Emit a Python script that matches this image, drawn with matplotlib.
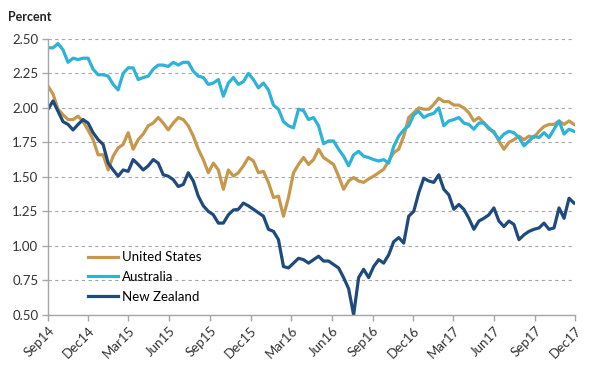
#!/usr/bin/env python3
"""
Ten-year government bond yields: United States, Australia, New Zealand.
"""

import pandas as pd
import matplotlib
matplotlib.use("Agg")
import matplotlib.pyplot as plt

plt.rcParams['font.family'] = ['Lato', 'DejaVu Sans']

# sampled roughly every 11 days, Sep 2014 -> end Nov 2017
start_date = "2014-09-01"
end_date = "2017-11-28"

us = [2.157, 2.10, 1.99, 1.95, 1.915, 1.915, 1.94, 1.90, 1.84, 1.77,
      1.66, 1.66, 1.55, 1.65, 1.71, 1.735, 1.82, 1.70, 1.77, 1.81,
      1.87, 1.89, 1.93, 1.89, 1.84, 1.89, 1.93, 1.915, 1.87, 1.795,
      1.70, 1.625, 1.53, 1.60, 1.55, 1.41, 1.55, 1.505,
      1.53, 1.58, 1.64, 1.615, 1.53, 1.54, 1.46, 1.35, 1.36, 1.215,
      1.35, 1.53, 1.59, 1.64, 1.59, 1.625, 1.70, 1.64, 1.615, 1.59,
      1.505, 1.41, 1.47, 1.495, 1.47, 1.46, 1.485, 1.505, 1.53, 1.555,
      1.615, 1.675, 1.70, 1.795, 1.93, 1.965, 2.00,
      1.99, 1.99, 2.025, 2.07, 2.045, 2.045, 2.02, 2.02, 2.00, 1.965,
      1.905, 1.93, 1.89, 1.845, 1.83, 1.76, 1.70, 1.75, 1.77, 1.795,
      1.77, 1.795, 1.785, 1.83, 1.865, 1.88, 1.88, 1.905, 1.88, 1.905,
      1.88]

australia = [2.435, 2.435, 2.466, 2.42, 2.33, 2.36, 2.35, 2.36, 2.36, 2.28,
             2.24, 2.24, 2.23, 2.17, 2.13, 2.25, 2.29, 2.29, 2.205, 2.22,
             2.23, 2.28, 2.31, 2.31, 2.30, 2.33, 2.31, 2.33, 2.33, 2.265,
             2.23, 2.22, 2.17, 2.18, 2.205, 2.085, 2.18, 2.22,
             2.17, 2.19, 2.25, 2.205, 2.145, 2.18, 2.13, 2.02, 1.99, 1.90,
             1.87, 1.855, 1.99, 1.98, 1.915, 1.93, 1.87, 1.74, 1.76, 1.76,
             1.70, 1.65, 1.58, 1.66, 1.685, 1.65, 1.64, 1.625, 1.615, 1.625,
             1.60, 1.72, 1.795, 1.84, 1.87, 1.95, 1.975,
             1.93, 1.95, 1.96, 2.00, 1.87, 1.905, 1.915, 1.93, 1.89, 1.88,
             1.845, 1.89, 1.89, 1.855, 1.82, 1.77, 1.81, 1.83, 1.82, 1.785,
             1.725, 1.76, 1.795, 1.785, 1.82, 1.785, 1.845, 1.905, 1.81, 1.845,
             1.83]

new_zealand = [1.99, 2.05, 1.975, 1.90, 1.88, 1.84, 1.88, 1.915, 1.89, 1.82,
               1.77, 1.735, 1.60, 1.55, 1.505, 1.55, 1.54, 1.625, 1.59, 1.55,
               1.58, 1.625, 1.60, 1.515, 1.505, 1.48, 1.43, 1.445, 1.53, 1.47,
               1.36, 1.29, 1.25, 1.225, 1.165, 1.165, 1.225, 1.26,
               1.265, 1.31, 1.29, 1.265, 1.24, 1.215, 1.12, 1.105, 1.045, 0.85,
               0.84, 0.875, 0.91, 0.90, 0.875, 0.90, 0.925, 0.89, 0.89, 0.865,
               0.84, 0.77, 0.69, 0.50, 0.77, 0.83, 0.77, 0.85, 0.90, 0.875,
               0.935, 1.03, 1.06, 1.02, 1.215, 1.25, 1.385,
               1.49, 1.47, 1.46, 1.515, 1.41, 1.37, 1.265, 1.30, 1.265, 1.20,
               1.12, 1.18, 1.20, 1.225, 1.275, 1.18, 1.14, 1.18, 1.155, 1.045,
               1.08, 1.105, 1.12, 1.13, 1.165, 1.12, 1.13, 1.275, 1.20, 1.345,
               1.31]

series = [
    ("United States", us, "#C6984D"),
    ("Australia", australia, "#2DB2D8"),
    ("New Zealand", new_zealand, "#1F4A7E"),
]

tick_dates = pd.date_range("2014-09-01", "2017-12-01", freq="3MS")
y_ticks = [0.50, 0.75, 1.00, 1.25, 1.50, 1.75, 2.00, 2.25, 2.50]

dates = pd.date_range(start_date, end_date, periods=len(us))

fig = plt.figure(figsize=(6.0, 3.7), dpi=100)
ax = fig.add_axes([0.08, 0.149, 0.879, 0.746])

for name, values, color in series:
    ax.plot(dates, values, color=color, linewidth=2.3, label=name,
            solid_joinstyle="round")

ax.set_xlim(tick_dates[0], tick_dates[-1])
ax.set_ylim(0.5, 2.5)
ax.set_yticks(y_ticks)
ax.set_yticklabels([f"{v:.2f}" for v in y_ticks], fontsize=9.5, color="#333333")
ax.set_xticks(tick_dates)
ax.set_xticklabels([d.strftime("%b%y") for d in tick_dates], rotation=45,
                   ha="right", rotation_mode="anchor", fontsize=9.5,
                   color="#333333")

ax.grid(axis="y", color="#A6A6A6", linestyle=(0, (3, 3)), linewidth=0.8)
ax.set_axisbelow(True)
for side in ("top", "right"):
    ax.spines[side].set_visible(False)
for side in ("left", "bottom"):
    ax.spines[side].set_color("#A6A6A6")
    ax.spines[side].set_linewidth(1.0)
ax.tick_params(axis="both", direction="out", length=4, color="#A6A6A6",
               width=1.0, pad=3)

fig.text(0.013, 0.955, "Percent", fontsize=9, fontweight="bold",
         va="center", ha="left", color="#222222")

ax.legend(loc="upper left", bbox_to_anchor=(0.065, 0.25), frameon=False,
          fontsize=9.5, handlelength=2.3, handletextpad=0.3,
          labelspacing=0.6, borderaxespad=0)

fig.savefig("out.png", dpi=100)
print("saved out.png")
